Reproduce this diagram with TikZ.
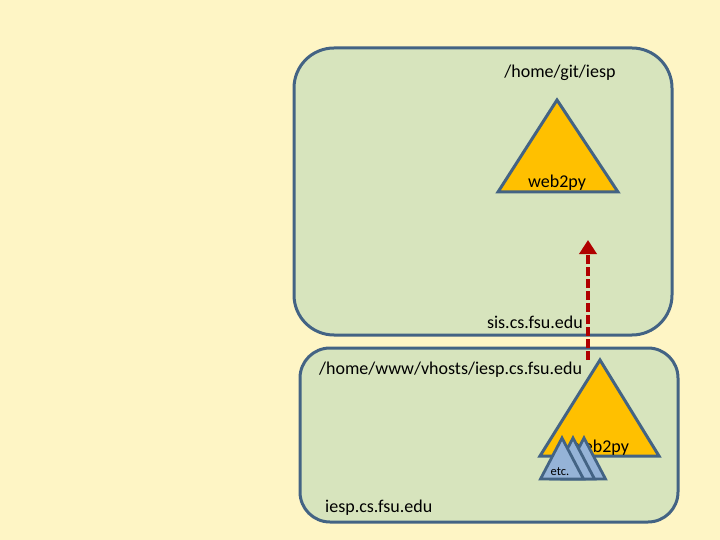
\documentclass[tikz,border=0pt]{standalone}
\usepackage{fontspec}
\setmainfont{Carlito}
\usetikzlibrary{arrows.meta}

\definecolor{slidebg}{HTML}{FEF5C5}
\definecolor{hostfill}{HTML}{D7E4BD}
\definecolor{rimcolor}{HTML}{436384}
\definecolor{treefill}{HTML}{FFC000}
\definecolor{appfill}{HTML}{95B3D7}
\definecolor{linkred}{HTML}{B00000}

\begin{document}
\begin{tikzpicture}%
  [x=1pt,y=-1pt,
   host/.style=
    {draw=rimcolor,fill=hostfill,line width=3pt},
   tree/.style=
    {draw=rimcolor,fill=treefill,line width=3pt,line join=miter},
   app/.style=
    {draw=rimcolor,fill=appfill,line width=2.8pt,line join=miter},
   label/.style={font=\fontsize{18}{20}\selectfont,inner sep=0pt},
   link/.style={draw=linkred,line width=3.6pt,dash pattern=on 9pt off 3pt,
     -{Triangle[length=14pt,width=17pt]}}
  ]
  \fill[slidebg] (0,0) rectangle (720,540);
  \useasboundingbox (0,0) rectangle (720,540);
  % top host
  \draw[host,rounded corners=40pt] (294,48) rectangle (672,335);
  \node[label] (gitdir) at (560,73) {/home/git/iesp};
  \draw[tree] (557,100) coordinate (gittop) -- (618,192) -- (498,192) -- cycle;
  \node[label,anchor=base] (gitpy) at (557,188) {web2py};
  \node[label,anchor=base east] (sis) at (583,328) {sis.cs.fsu.edu};
  % bottom host
  \draw[host,rounded corners=30pt] (300,348) rectangle (678,522);
  \node[label,anchor=base west] (wwwdir) at (319,374) {/home/www/vhosts/iesp.cs.fsu.edu};
  \draw[tree] (600,360) coordinate (wwwtop) -- (659,456) -- (540,456) -- cycle;
  \node[label,anchor=base] (wwwpy) at (600,452) {web2py};
  \foreach \dx in {22,11,0}
    \draw[app] (562+\dx,438) -- (583.5+\dx,479) -- (540.5+\dx,479) -- cycle;
  \node[font=\fontsize{12.5}{14}\selectfont,inner sep=0pt] (etc) at (560,472) {etc.};
  \node[label,anchor=base west] (iesp) at (325,512) {iesp.cs.fsu.edu};
  % link
  \coordinate (linkfoot) at (588,360);
  \coordinate (linkhead) at (588,240);
  \draw[link] (linkfoot) -- (linkhead);
\end{tikzpicture}
\end{document}
